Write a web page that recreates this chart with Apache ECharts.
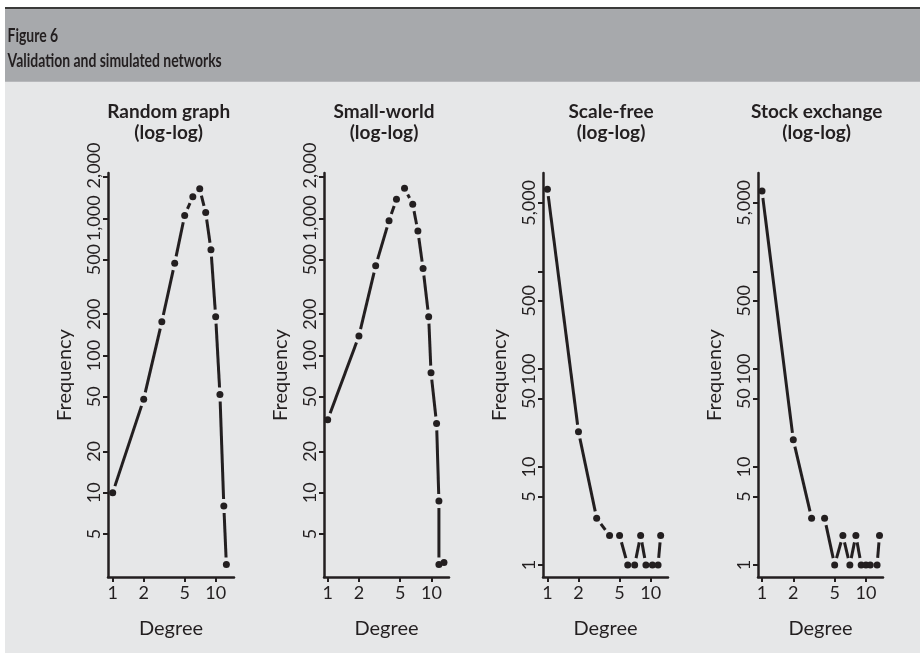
<!DOCTYPE html>
<html><head><meta charset="utf-8">
<script src="https://cdn.jsdelivr.net/npm/echarts@6/dist/echarts.min.js"></script>
<style>html,body{margin:0;padding:0;background:#fff}#c{width:920px;height:653px}</style>
</head><body><div id="c"></div>
<script>
// ---------------- data ----------------
const randomDegree = [1, 2, 3, 4, 5, 6, 7, 8, 9, 10, 11, 12, 12.7];
const randomFreq = [10, 48, 176, 470, 1050, 1435, 1640, 1100, 590, 192, 52, 8, 3];
const smallWorldDegree = [1, 2, 2.9, 3.9, 4.6, 5.5, 6.6, 7.4, 8.3, 9.4, 9.9, 11.2, 11.8, 11.8, 13.2];
const smallWorldFreq = [34, 139, 450, 960, 1375, 1655, 1265, 807, 430, 192, 75, 32, 8.7, 3.0, 3.1];
const scaleFreeDegree = [1, 2, 3, 4, 5, 6, 7, 8, 9, 10.4, 11.8, 12.5];
const scaleFreeFreq = [6900, 23, 3, 2, 2, 1, 1, 2, 1, 1, 1, 2];
const stockDegree = [1, 2, 3, 4, 5, 6, 7, 8, 9, 10, 11, 12.8, 13.5];
const stockFreq = [6600, 19, 3, 3, 1, 2, 1, 2, 1, 1, 1, 1, 2];

const panelTitles = ['Random graph', 'Small-world', 'Scale-free', 'Stock exchange'];
const panelSubtitle = '(log-log)';
const figureLabel = 'Figure 6';
const figureTitle = 'Validation and simulated networks';
const xName = 'Degree';
const yName = 'Frequency';
const xTicks = [1, 2, 5, 10];
const yTicksPeak = [5, 10, 20, 50, 100, 200, 500, 1000, 2000];
const yLabelsPeak = [5, 10, 20, 50, 100, 200, 500, 1000];
const yLabelsPeakTop = [2000];
const yTicksTail = [1, 5, 10, 50, 100, 500, 1000, 5000];
const yLabelsTail = [1, 5, 10, 50, 100, 500, 5000];

// ---------------- layout / style ----------------
const INK = '#231f20';
const FONT = 'Lato, "Open Sans", sans-serif';
const GAP = 7;
const lg = Math.log10;

const panels = [
  {deg: randomDegree, freq: randomFreq, left: 108, width: 126, xr: [-0.0456, 1.178], yr: [0.386, 3.330], yt: yTicksPeak, yl: yLabelsPeak, ytop: yLabelsPeakTop, tx: 168.7},
  {deg: smallWorldDegree, freq: smallWorldFreq, left: 324, width: 125, xr: [-0.0356, 1.169], yr: [0.386, 3.330], yt: yTicksPeak, yl: yLabelsPeak, ytop: yLabelsPeakTop, tx: 384},
  {deg: scaleFreeDegree, freq: scaleFreeFreq, left: 543, width: 125, xr: [-0.0426, 1.168], yr: [-0.123, 4.004], yt: yTicksTail, yl: yLabelsTail, ytop: null, tx: 611},
  {deg: stockDegree, freq: stockFreq, left: 758, width: 125, xr: [-0.0385, 1.164], yr: [-0.123, 4.004], yt: yTicksTail, yl: yLabelsTail, ytop: null, tx: 816.7}
];
const GTOP = 173, GH = 404;

const fmt = v => Math.round(Math.pow(10, v)).toLocaleString('en-US');
// the top "2,000" label sits a little above its tick in the reference
const fmtTop = v => '\u00a0\u00a0\u00a0\u00a0\u00a0' + fmt(v);

const grid = [], xAxis = [], yAxis = [], series = [], graphic = [];
const extraY = [];

graphic.push({type: 'rect', z: -10, shape: {x: 0, y: 0, width: 5, height: 653}, style: {fill: '#ffffff'}, silent: true});
graphic.push({type: 'rect', z: -10, shape: {x: 0, y: 0, width: 920, height: 7}, style: {fill: '#ffffff'}, silent: true});
graphic.push({type: 'rect', z: -10, shape: {x: 5, y: 7, width: 915, height: 2.3}, style: {fill: '#3a3a3a'}, silent: true});
graphic.push({type: 'rect', z: -10, shape: {x: 5, y: 9.3, width: 915, height: 72.5}, style: {fill: '#a7a9ac'}, silent: true});
graphic.push({type: 'text', x: 7.5, y: 35.5, scaleX: 0.735, style: {text: figureLabel, fill: INK, font: 'bold 19px ' + FONT, textAlign: 'left', textVerticalAlign: 'middle'}});
graphic.push({type: 'text', x: 7.5, y: 61, scaleX: 0.735, style: {text: figureTitle, fill: INK, font: 'bold 19px ' + FONT, textAlign: 'left', textVerticalAlign: 'middle'}});

panels.forEach((p, i) => {
  grid.push({left: p.left, top: GTOP, width: p.width, height: GH, containLabel: false});
  xAxis.push({
    type: 'value', gridIndex: i, min: p.xr[0], max: p.xr[1],
    name: xName, nameLocation: 'middle', nameGap: 42,
    nameTextStyle: {color: INK, fontSize: 20, fontFamily: FONT},
    axisLine: {show: true, onZero: false, lineStyle: {color: INK, width: 2.5}},
    axisTick: {show: true, length: 5, lineStyle: {color: INK, width: 2}, customValues: xTicks.map(lg)},
    axisLabel: {color: INK, fontSize: 18, fontFamily: FONT, margin: 7, formatter: fmt, customValues: xTicks.map(lg),
                showMinLabel: true, showMaxLabel: true},
    splitLine: {show: false}
  });
  yAxis.push({
    type: 'value', gridIndex: i, min: p.yr[0], max: p.yr[1],
    name: yName, nameLocation: 'middle', nameGap: 33,
    nameTextStyle: {color: INK, fontSize: 20, fontFamily: FONT},
    axisLine: {show: true, onZero: false, lineStyle: {color: INK, width: 2.5}},
    axisTick: {show: true, length: 5, lineStyle: {color: INK, width: 2}, customValues: p.yt.map(lg)},
    axisLabel: {color: INK, fontSize: 18, fontFamily: FONT, margin: 5, rotate: 90, formatter: fmt, customValues: p.yl.map(lg),
                showMinLabel: true, showMaxLabel: true},
    splitLine: {show: false}
  });
  if (p.ytop) {
    extraY.push({
      type: 'value', gridIndex: i, min: p.yr[0], max: p.yr[1], position: 'left',
      axisLine: {show: false}, axisTick: {show: false}, splitLine: {show: false},
      axisLabel: {color: INK, fontSize: 18, fontFamily: FONT, margin: 5, rotate: 90, formatter: fmtTop, customValues: p.ytop.map(lg),
                  showMinLabel: true, showMaxLabel: true}
    });
  }
  const segs = [];
  for (let k = 0; k < p.deg.length - 1; k++) {
    segs.push([lg(p.deg[k]), lg(p.freq[k]), lg(p.deg[k + 1]), lg(p.freq[k + 1])]);
  }
  series.push({
    type: 'custom', xAxisIndex: i, yAxisIndex: i, silent: true,
    data: segs, encode: {x: [0, 2], y: [1, 3]},
    renderItem: (params, api) => {
      const a = api.coord([api.value(0), api.value(1)]);
      const b = api.coord([api.value(2), api.value(3)]);
      const dx = b[0] - a[0], dy = b[1] - a[1];
      const d = Math.hypot(dx, dy);
      if (d <= 2 * GAP + 1) return {type: 'group', children: []};
      const ux = dx / d, uy = dy / d;
      return {type: 'line', shape: {x1: a[0] + ux * GAP, y1: a[1] + uy * GAP, x2: b[0] - ux * GAP, y2: b[1] - uy * GAP},
              style: {stroke: INK, lineWidth: 3, lineCap: 'butt'}};
    }
  });
  series.push({
    type: 'scatter', xAxisIndex: i, yAxisIndex: i, silent: true,
    symbol: 'circle', symbolSize: 7, itemStyle: {color: INK, opacity: 1},
    data: p.deg.map((d, k) => [lg(d), lg(p.freq[k])])
  });
  graphic.push({type: 'text', x: p.tx, y: 111.7, style: {text: panelTitles[i], fill: INK, font: 'bold 19px ' + FONT, textAlign: 'center', textVerticalAlign: 'middle'}});
  graphic.push({type: 'text', x: p.tx, y: 133.3, style: {text: panelSubtitle, fill: INK, font: 'bold 19px ' + FONT, textAlign: 'center', textVerticalAlign: 'middle'}});
});
extraY.forEach(a => yAxis.push(a));

const chart = echarts.init(document.getElementById('c'), null, {renderer: 'canvas'});
chart.setOption({
  backgroundColor: '#e6e7e8',
  animation: false,
  grid, xAxis, yAxis, series, graphic
});
</script></body></html>
